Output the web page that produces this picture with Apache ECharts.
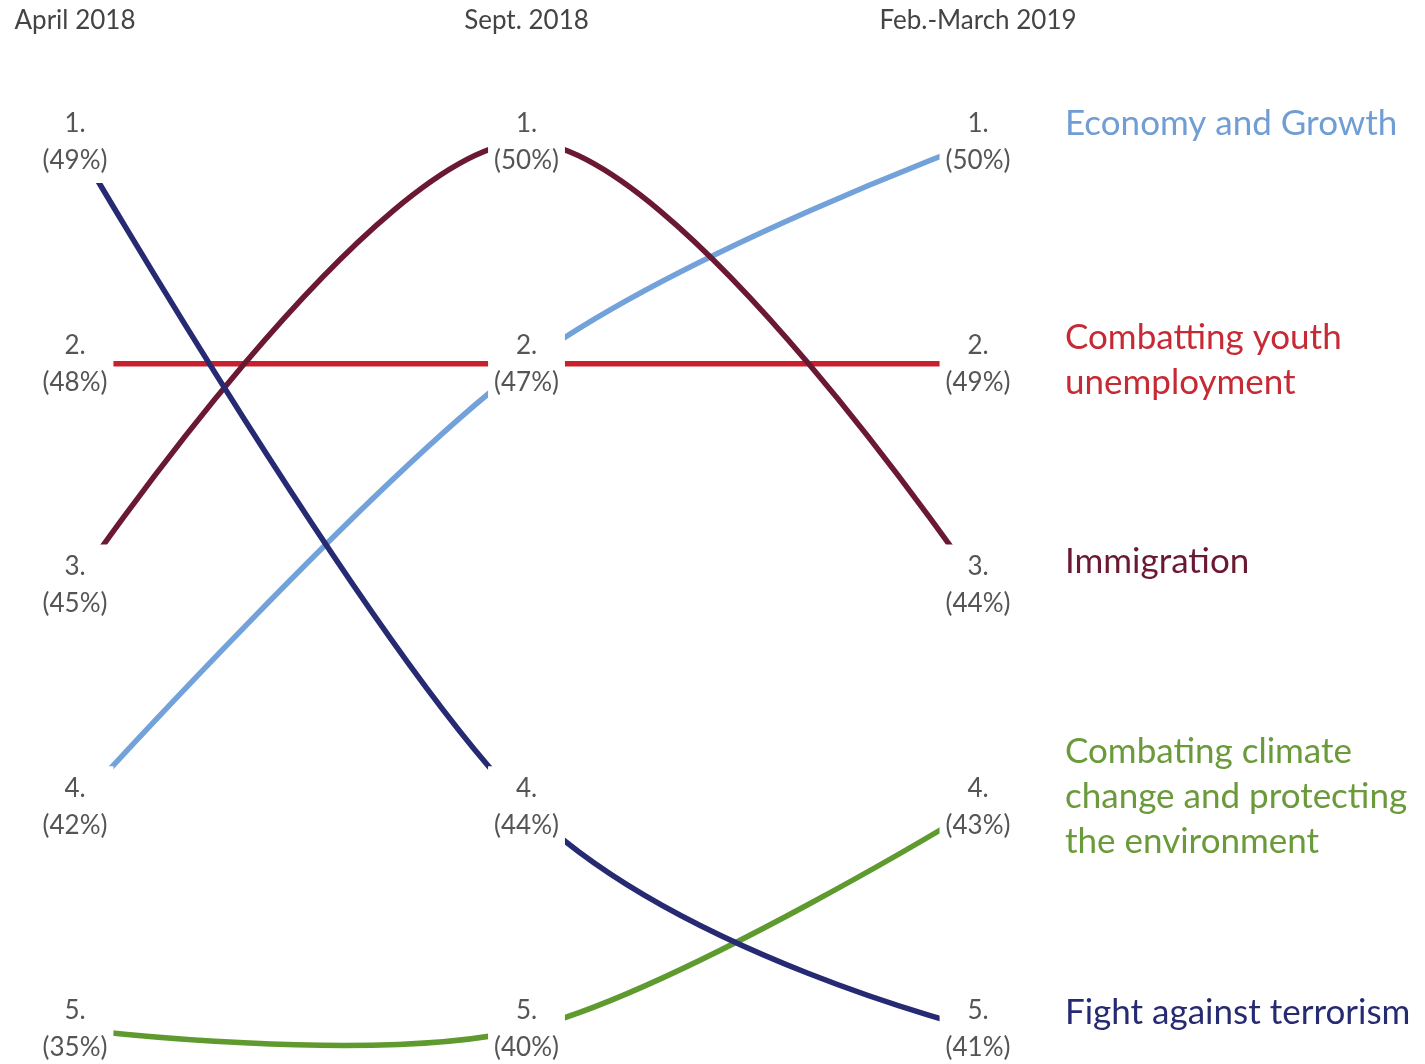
<!DOCTYPE html>
<html><head><meta charset="utf-8">
<script src="https://cdn.jsdelivr.net/npm/echarts@6/dist/echarts.min.js"></script>
<style>html,body{margin:0;padding:0;background:#fff}#c{width:1425px;height:1064px}</style>
</head><body><div id="c"></div>
<script>
// ---- data ----
const periods = ['April 2018', 'Sept. 2018', 'Feb.-March 2019'];
const topics = ['Economy and Growth', 'Combatting youth\nunemployment', 'Immigration',
  'Combating climate\nchange and protecting\nthe environment', 'Fight against terrorism'];
const economyRank = [4, 2, 1];      const economyPct = [42, 47, 50];
const youthRank = [2, 2, 2];        const youthPct = [48, 47, 49];
const immigrationRank = [3, 1, 3];  const immigrationPct = [45, 50, 44];
const climateRank = [5, 5, 4];      const climatePct = [35, 40, 43];
const terrorRank = [1, 4, 5];       const terrorPct = [49, 44, 41];

const ranks = [economyRank, youthRank, immigrationRank, climateRank, terrorRank];
const pcts = [economyPct, youthPct, immigrationPct, climatePct, terrorPct];

// ---- styles ----
const lineColors = ['#72a2d9', '#c8202e', '#6b1832', '#5f9a2f', '#262a72'];
const textColors = ['#6f9dd4', '#c62a35', '#6b1832', '#6a9a3a', '#262a72'];
const nameDy = [-18, -4, -24, -11, -16];
const FONT = 'Lato, "Open Sans", sans-serif';

// Catmull-Rom style smooth path through pixel points
function smoothPath(pts) {
  let d = 'M' + pts[0][0] + ' ' + pts[0][1];
  for (let i = 0; i < pts.length - 1; i++) {
    const p0 = pts[i - 1] || pts[i], p1 = pts[i], p2 = pts[i + 1], p3 = pts[i + 2] || pts[i + 1];
    const t1 = (i === 0) ? [0, 0] : [(p2[0] - p0[0]) / 6, (p2[1] - p0[1]) / 6];
    const t2 = (i + 2 >= pts.length) ? [0, 0] : [(p3[0] - p1[0]) / 6, (p3[1] - p1[1]) / 6];
    d += ' C' + (p1[0] + t1[0]) + ' ' + (p1[1] + t1[1]) + ' ' +
      (p2[0] - t2[0]) + ' ' + (p2[1] - t2[1]) + ' ' + p2[0] + ' ' + p2[1];
  }
  return d;
}

const series = [];
ranks.forEach((r, i) => {
  const row = [];
  r.forEach((v, p) => { row.push(p, v); });
  series.push({
    type: 'custom',
    name: topics[i],
    z: 2,
    clip: false,
    encode: { x: [0, 2, 4], y: [1, 3, 5] },
    data: [row],
    renderItem: (params, api) => {
      const pts = [];
      for (let p = 0; p < periods.length; p++) {
        pts.push(api.coord([api.value(2 * p), api.value(2 * p + 1)]));
      }
      const last = pts[pts.length - 1];
      return {
        type: 'group',
        children: [
          { type: 'path', shape: { pathData: smoothPath(pts) },
            style: { fill: null, stroke: lineColors[i], lineWidth: 5.5 } },
          { type: 'text', x: last[0] + 87, y: last[1] + nameDy[i],
            style: { text: topics[i], fill: textColors[i], font: '35px ' + FONT,
              lineHeight: 45, align: 'left', verticalAlign: 'middle' } }
        ]
      };
    }
  });
});

// rank labels (deduplicated ties)
const labelPts = [];
const seen = {};
for (let p = 0; p < periods.length; p++) {
  ranks.forEach((r, i) => {
    const key = p + '_' + r[p];
    if (seen[key]) return;
    seen[key] = true;
    labelPts.push([p, r[p], pcts[i][p]]);
  });
}
series.push({
  type: 'custom',
  z: 10,
  clip: false,
  encode: { x: 0, y: 1 },
  data: labelPts,
  renderItem: (params, api) => {
    const c = api.coord([api.value(0), api.value(1)]);
    return {
      type: 'text', x: c[0], y: c[1], z2: 100,
      style: {
        text: api.value(1) + '.\n(' + api.value(2) + '%)',
        font: '26px ' + FONT, lineHeight: 37, fill: '#555',
        align: 'center', verticalAlign: 'middle',
        backgroundColor: '#fff', padding: [4, 6]
      }
    };
  }
});

const chart = echarts.init(document.getElementById('c'));
chart.setOption({
  animation: false,
  backgroundColor: '#fff',
  grid: { left: 75, right: 447, top: 142, bottom: 35 },
  xAxis: {
    type: 'value', min: 0, max: 2, interval: 1, position: 'top',
    axisLine: { show: false }, axisTick: { show: false }, splitLine: { show: false },
    axisLabel: {
      formatter: (v) => periods[v] || '',
      margin: 108,
      fontFamily: FONT, fontSize: 26, color: '#444'
    }
  },
  yAxis: { type: 'value', min: 1, max: 5, inverse: true, show: false },
  series: series
});
</script>
</body></html>
